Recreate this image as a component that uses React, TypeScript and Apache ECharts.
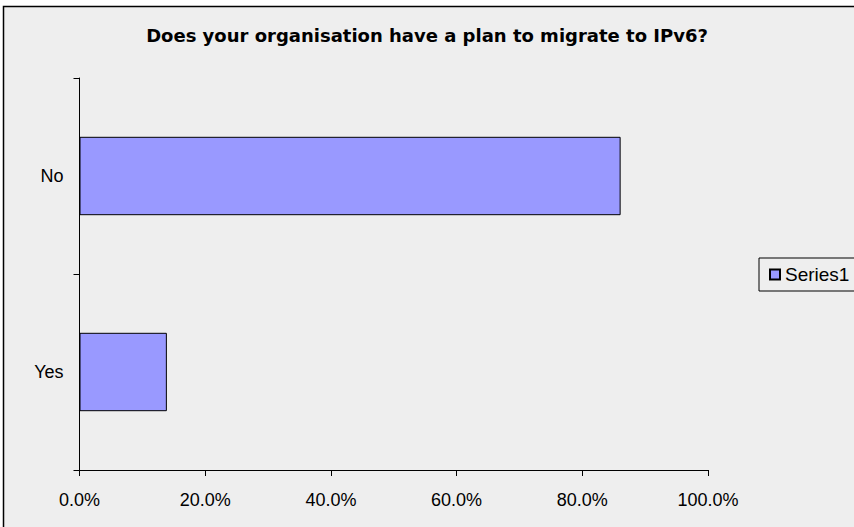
import React, { useEffect, useRef } from "react";
import * as echarts from "echarts";

const titleText = "Does your organisation have a plan to migrate to IPv6?";
const categories = ["No", "Yes"];
const values = [86.1, 13.9];
const seriesName = "Series1";
const xMin = 0;
const xMax = 100;
const xInterval = 20;

export default function App() {
  const ref = useRef<HTMLDivElement>(null);
  useEffect(() => {
    if (!ref.current) return;
    const chart = echarts.init(ref.current, undefined, { renderer: "svg" });
    chart.setOption({
      animation: false,
      backgroundColor: "#ffffff",
      graphic: [
        {
          type: "rect",
          z: -10,
          silent: true,
          shape: { x: 3.5, y: 6.5, width: 900, height: 600 },
          style: { fill: "#eeeeee", stroke: "#000000", lineWidth: 1.5 },
        },
      ],
      title: {
        text: titleText,
        left: "center",
        top: 26,
        padding: 0,
        textStyle: {
          fontFamily: "DejaVu Sans",
          fontWeight: "bold",
          fontSize: 18,
          color: "#000000",
        },
      },
      legend: {
        left: 759,
        top: 258,
        orient: "vertical",
        padding: [7, 10, 7, 10],
        borderColor: "#000000",
        borderWidth: 1,
        backgroundColor: "#eeeeee",
        itemWidth: 10,
        itemHeight: 10,
        itemGap: 6,
        icon: "rect",
        textStyle: {
          fontFamily: "Liberation Sans, Arial",
          fontSize: 19,
          color: "#000000",
        },
        data: [seriesName],
      },
      grid: {
        left: 79.5,
        right: 146,
        top: 78,
        bottom: 57,
        containLabel: false,
      },
      xAxis: {
        type: "value",
        min: xMin,
        max: xMax,
        interval: xInterval,
        axisLine: { show: true, lineStyle: { color: "#000000", width: 1 } },
        axisTick: { show: true, length: 6, lineStyle: { color: "#000000" } },
        splitLine: { show: false },
        axisLabel: {
          margin: 21,
          fontFamily: "Liberation Sans, Arial",
          fontSize: 18,
          color: "#000000",
          formatter: (v: number) => v.toFixed(1) + "%",
        },
      },
      yAxis: {
        type: "category",
        data: categories,
        inverse: true,
        axisLine: { show: true, lineStyle: { color: "#000000", width: 1 } },
        axisTick: { show: true, length: 6, lineStyle: { color: "#000000" } },
        splitLine: { show: false },
        axisLabel: {
          margin: 16,
          fontFamily: "Liberation Sans, Arial",
          fontSize: 18,
          color: "#000000",
        },
      },
      series: [
        {
          name: seriesName,
          type: "bar",
          data: values,
          barCategoryGap: "60%",
          itemStyle: {
            color: "#9999ff",
            borderColor: "#000000",
            borderWidth: 1,
          },
        },
      ],
    });
    return () => chart.dispose();
  }, []);
  return (
    <div
      ref={ref}
      style={{ position: "fixed", left: 0, top: 0, width: 854, height: 527 }}
    />
  );
}
